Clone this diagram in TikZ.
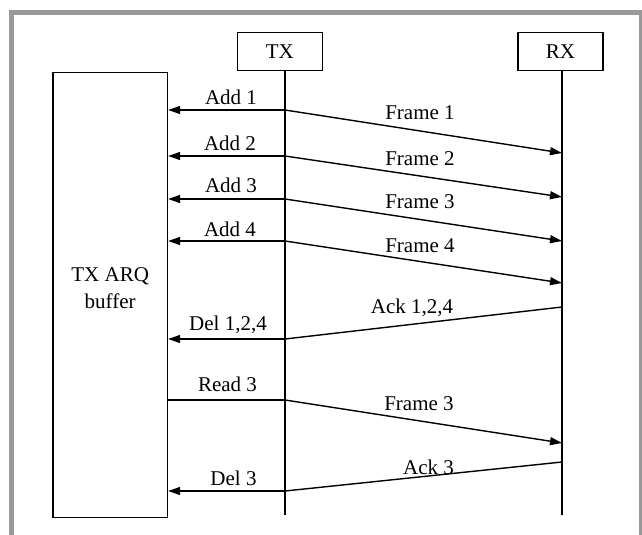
\documentclass[tikz,border=0pt]{standalone}
\usepackage{fontspec}
\setmainfont{Liberation Serif}
\usetikzlibrary{arrows.meta}
\definecolor{framegray}{RGB}{153,153,153}
\begin{document}
\begin{tikzpicture}[x=1pt,y=-1pt,
  box/.style={draw,line width=1.4pt,inner sep=0pt,font=\fontsize{21}{27}\selectfont},
  txt/.style={inner sep=0pt,align=center,font=\fontsize{21}{27}\selectfont},
  ln/.style={line width=1.4pt},
  msg/.style={line width=1.4pt,-{Triangle[length=12pt,width=8pt]}},
  lbl/.style={anchor=base,inner sep=0pt,font=\fontsize{21}{24}\selectfont}]
\useasboundingbox (0,0) rectangle (642,535);
\begin{scope}
  \clip (0,0) rectangle (642,535);
  \draw[line width=5pt,framegray] (11.5,545) -- (11.5,12.5) -- (641.8,12.5) -- (641.8,545);
\end{scope}
% actors
\node[box,minimum width=85pt,minimum height=38.5pt] (tx) at (279.8,51.5) {TX};
\node[box,minimum width=85pt,minimum height=38.5pt] (rx) at (560.5,51.5) {RX};
\node[box,minimum width=114.5pt,minimum height=445pt] (buf) at (110.2,294.7) {};
\node[txt] (buftext) at (110.2,288) {TX ARQ\\buffer};
% lifelines
\coordinate (txb) at (285,515);
\coordinate (rxb) at (562,515);
\draw[ln] (tx.south -| txb) -- (txb);
\draw[ln] (rx.south -| rxb) -- (rxb);
% message points
\coordinate (a1) at (285,110);  \coordinate (f1) at (562,153);
\coordinate (a2) at (285,156);  \coordinate (f2) at (562,197);
\coordinate (a3) at (285,199);  \coordinate (f3) at (562,241);
\coordinate (a4) at (285,241);  \coordinate (f4) at (562,283);
\coordinate (k1) at (562,307);  \coordinate (d1) at (285,339);
\coordinate (r3) at (285,400);  \coordinate (f5) at (562,443);
\coordinate (k3) at (562,462);  \coordinate (d3) at (285,491);
% arrows
\draw[msg] (a1) -- (buf.east |- a1);
\draw[msg] (a1) -- (f1);
\draw[msg] (a2) -- (buf.east |- a2);
\draw[msg] (a2) -- (f2);
\draw[msg] (a3) -- (buf.east |- a3);
\draw[msg] (a3) -- (f3);
\draw[msg] (a4) -- (buf.east |- a4);
\draw[msg] (a4) -- (f4);
\draw[ln] (k1) -- (d1);
\draw[msg] (d1) -- (buf.east |- d1);
\draw[ln] (buf.east |- r3) -- (r3);
\draw[msg] (r3) -- (f5);
\draw[ln] (k3) -- (d3);
\draw[msg] (d3) -- (buf.east |- d3);
% labels
\node[lbl] (ladd1) at (231,104) {Add 1};
\node[lbl] (ladd2) at (230,150) {Add 2};
\node[lbl] (ladd3) at (231,192.7) {Add 3};
\node[lbl] (ladd4) at (230,236.7) {Add 4};
\node[lbl] (lfr1) at (420,119.3) {Frame 1};
\node[lbl] (lfr2) at (420,165) {Frame 2};
\node[lbl] (lfr3) at (420,208) {Frame 3};
\node[lbl] (lfr4) at (420,252.7) {Frame 4};
\node[lbl] (lack1) at (412,313) {Ack 1,2,4};
\node[lbl] (ldel1) at (228,330.7) {Del 1,2,4};
\node[lbl] (lread) at (227.5,391.7) {Read 3};
\node[lbl] (lfr5) at (419,410) {Frame 3};
\node[lbl] (lack3) at (428.5,474) {Ack 3};
\node[lbl] (ldel3) at (233.5,485) {Del 3};
\end{tikzpicture}
\end{document}
